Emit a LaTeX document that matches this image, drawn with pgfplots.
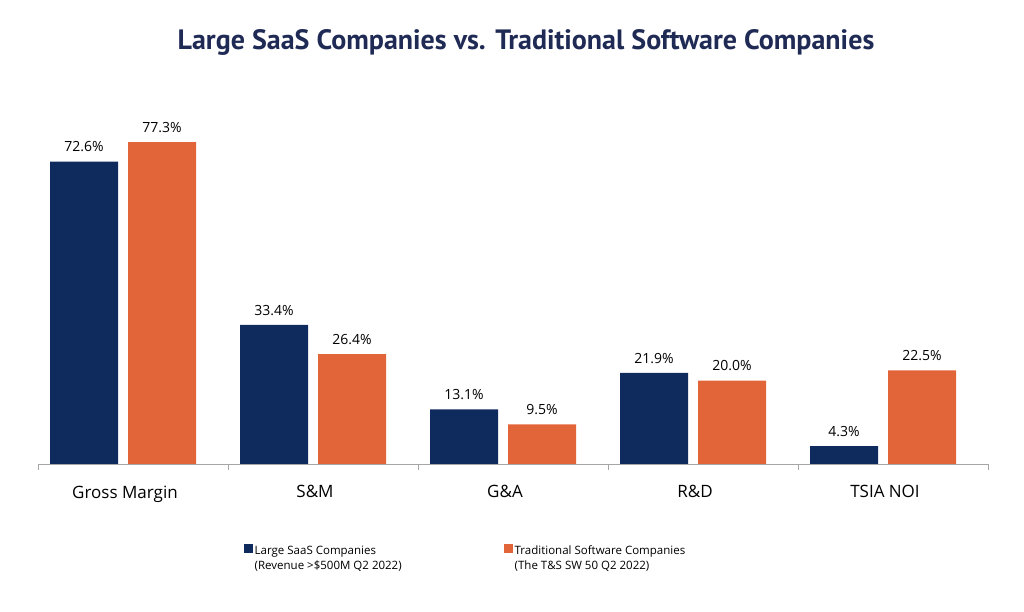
\documentclass[border=0pt]{standalone}
\usepackage{pgfplots}
\pgfplotsset{compat=1.18}
\usepackage{fontspec}
\setmainfont{Open Sans}
\newfontfamily\titlefont{PT Sans}
\definecolor{navy}{HTML}{0F2A5C}
\definecolor{orng}{HTML}{E2653A}
\definecolor{ttl}{HTML}{1F2A55}
\begin{document}
\begin{tikzpicture}[x=1pt,y=1pt]
\useasboundingbox (0,0) rectangle (1024,612);
\node[font=\titlefont\bfseries\fontsize{28}{30}\selectfont, text=ttl] at (526,570) {Large SaaS Companies vs. Traditional Software Companies};
\begin{axis}[at={(38pt,148pt)}, anchor=south west, scale only axis,
 width=950pt, height=354pt, ymin=0, ymax=85, xmin=-0.5, xmax=4.5,
 ybar=10pt, bar width=68pt,
 /pgf/number format/assume math mode=true,
 axis y line=none, axis x line*=bottom, axis line style={gray!70},
 xtick={0,...,4}, xticklabels={Gross Margin,S\&M,G\&A,R\&D,TSIA NOI},
 major tick length=0pt, minor xtick={-0.5,0.5,...,4.5},
 minor tick length=6pt, tick align=outside, minor tick style={gray!70},
 ticklabel style={font=\fontsize{17}{20}\selectfont, yshift=-18pt, xshift=-8pt},
 nodes near coords={\pgfmathprintnumber[fixed,fixed zerofill,precision=1]{\pgfplotspointmeta}\%},
 nodes near coords style={font=\fontsize{14}{16}\selectfont, text=black, yshift=6pt},
 legend style={at={(0.45,-0.22)}, anchor=north, draw=none, legend columns=2,
   font=\fontsize{11.5}{14}\selectfont, /tikz/every even column/.append style={column sep=100pt}},
 legend cell align=left,
 legend image code/.code={\fill[#1] (0,5pt) rectangle (9pt,14pt);}]
\addplot[fill=navy, draw=none, bar shift=-49pt] coordinates {(0,72.6) (1,33.4) (2,13.1) (3,21.9) (4,4.3)};
\addplot[fill=orng, draw=none, bar shift=29pt] coordinates {(0,77.3) (1,26.4) (2,9.5) (3,20.0) (4,22.5)};
\legend{{\shortstack[l]{Large SaaS Companies\\(Revenue >\$500M Q2 2022)}},{\shortstack[l]{Traditional Software Companies\\(The T\&S SW 50 Q2 2022)}}}
\end{axis}
\end{tikzpicture}
\end{document}
